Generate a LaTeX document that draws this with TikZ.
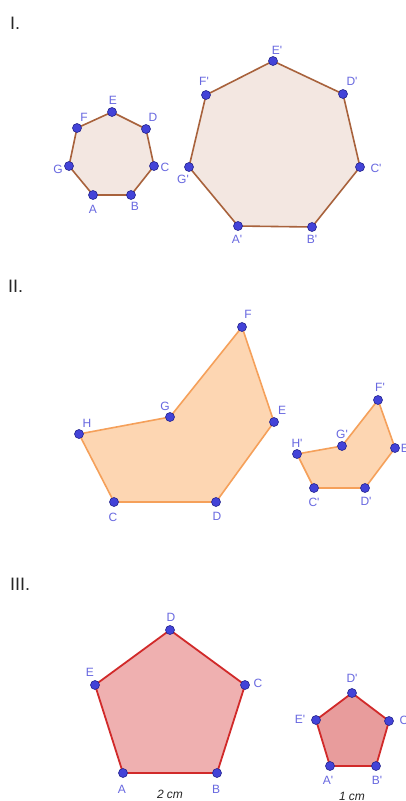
\documentclass[tikz,border=0pt]{standalone}
\usepackage{fontspec}
\newfontfamily\ggb{Liberation Sans}
\usepackage{tikz}
\usetikzlibrary{positioning}
\definecolor{ptfill}{HTML}{4343D8}
\definecolor{ptdraw}{HTML}{25258F}
\definecolor{lblcol}{HTML}{6868E0}
\definecolor{heptline}{HTML}{A8623C}
\definecolor{heptfill}{HTML}{F3E7E1}
\definecolor{boatline}{HTML}{F5A05A}
\definecolor{boatfill}{HTML}{FDD6B2}
\definecolor{pentline}{HTML}{D12A2A}
\definecolor{pentfill}{HTML}{EFB0B0}
\definecolor{pentfillb}{HTML}{E89C9C}
\tikzset{
  vert/.style={circle,fill=ptfill,draw=ptdraw,line width=0.6pt,minimum size=9pt,inner sep=0pt},
  lbl/.style={font=\ggb\fontsize{12}{12}\selectfont,text=lblcol,inner sep=0pt},
  part/.style={font=\ggb\fontsize{18}{18}\selectfont,text=black!85,anchor=base west,inner sep=0pt},
  len/.style={font=\ggb\itshape\fontsize{12}{12}\selectfont,text=black!85,inner sep=0pt},
  hept/.style={draw=heptline,fill=heptfill,line width=1.6pt,line join=round},
  boat/.style={draw=boatline,fill=boatfill,line width=1.6pt,line join=round},
  pent/.style={draw=pentline,fill=pentfill,line width=1.8pt,line join=round},
}
\begin{document}
\begin{tikzpicture}[x=1pt,y=-1pt]
  \useasboundingbox[fill=white] (0,0) rectangle (406,801);
  % I. two heptagons
  \node[part] (partI) at (10,29) {I.};
  \coordinate (hA) at (93,195);  \coordinate (hB) at (131,195);
  \coordinate (hC) at (154,166); \coordinate (hD) at (146,129);
  \coordinate (hE) at (112,112); \coordinate (hF) at (77,128);
  \coordinate (hG) at (69,166);
  \draw[hept] (hA) -- (hB) -- (hC) -- (hD) -- (hE) -- (hF) -- (hG) -- cycle;
  \coordinate (HA) at (238,226); \coordinate (HB) at (312,227);
  \coordinate (HC) at (360,167); \coordinate (HD) at (343,94);
  \coordinate (HE) at (273,61);  \coordinate (HF) at (206,95);
  \coordinate (HG) at (189,167);
  \draw[hept] (HA) -- (HB) -- (HC) -- (HD) -- (HE) -- (HF) -- (HG) -- cycle;
  \foreach \p in {hA,hB,hC,hD,hE,hF,hG,HA,HB,HC,HD,HE,HF,HG}
    \node[vert] (v-\p) at (\p) {};
  \node[lbl] (l-hA) at (93,209) {A};
  \node[lbl] (l-hB) at (135,206) {B};
  \node[lbl] (l-hC) at (165,167) {C};
  \node[lbl] (l-hD) at (153,117) {D};
  \node[lbl] (l-hE) at (113,100) {E};
  \node[lbl] (l-hF) at (84,117) {F};
  \node[lbl] (l-hG) at (58,169) {G};
  \node[lbl] (l-HA) at (237,239) {A'};
  \node[lbl] (l-HB) at (312,239) {B'};
  \node[lbl] (l-HC) at (376,168) {C'};
  \node[lbl] (l-HD) at (352,81) {D'};
  \node[lbl] (l-HE) at (277,50) {E'};
  \node[lbl] (l-HF) at (204,81) {F'};
  \node[lbl] (l-HG) at (183,179) {G'};
  % II. two hexagons (boat shape)
  \node[part] (partII) at (8,292) {II.};
  \coordinate (bC) at (114,502); \coordinate (bD) at (216,502);
  \coordinate (bE) at (274,422); \coordinate (bF) at (242,327);
  \coordinate (bG) at (170,417); \coordinate (bH) at (79,434);
  \draw[boat] (bC) -- (bD) -- (bE) -- (bF) -- (bG) -- (bH) -- cycle;
  \coordinate (BC) at (314,488); \coordinate (BD) at (365,488);
  \coordinate (BE) at (395,448); \coordinate (BF) at (378,400);
  \coordinate (BG) at (342,446); \coordinate (BH) at (297,454);
  \draw[boat] (BC) -- (BD) -- (BE) -- (BF) -- (BG) -- (BH) -- cycle;
  \foreach \p in {bC,bD,bE,bF,bG,bH,BC,BD,BE,BF,BG,BH}
    \node[vert] (v-\p) at (\p) {};
  \node[lbl] (l-bC) at (113,517) {C};
  \node[lbl] (l-bD) at (217,516) {D};
  \node[lbl] (l-bE) at (282,410) {E};
  \node[lbl] (l-bF) at (248,314) {F};
  \node[lbl] (l-bG) at (165,406) {G};
  \node[lbl] (l-bH) at (87,423) {H};
  \node[lbl] (l-BC) at (314,502) {C'};
  \node[lbl] (l-BD) at (366,501) {D'};
  \node[lbl] (l-BE) at (406,448) {E'};
  \node[lbl] (l-BF) at (380,387) {F'};
  \node[lbl] (l-BG) at (342,434) {G'};
  \node[lbl] (l-BH) at (297,443) {H'};
  % III. two regular pentagons
  \node[part] (partIII) at (10,590) {III.};
  \coordinate (pA) at (123,773); \coordinate (pB) at (217,773);
  \coordinate (pC) at (245,685); \coordinate (pD) at (170,630);
  \coordinate (pE) at (95,685);
  \draw[pent] (pA) -- (pB) -- (pC) -- (pD) -- (pE) -- cycle;
  \coordinate (PA) at (330,766); \coordinate (PB) at (376,766);
  \coordinate (PC) at (389,721); \coordinate (PD) at (352,693);
  \coordinate (PE) at (316,720);
  \draw[pent,fill=pentfillb] (PA) -- (PB) -- (PC) -- (PD) -- (PE) -- cycle;
  \foreach \p in {pA,pB,pC,pD,pE,PA,PB,PC,PD,PE}
    \node[vert] (v-\p) at (\p) {};
  \node[lbl] (l-pA) at (122,789) {A};
  \node[lbl] (l-pB) at (216,789) {B};
  \node[lbl] (l-pC) at (258,683) {C};
  \node[lbl] (l-pD) at (171,617) {D};
  \node[lbl] (l-pE) at (90,672) {E};
  \node[len] (l-AB) at (170,794) {2 cm};
  \node[lbl] (l-PA) at (328,780) {A'};
  \node[lbl] (l-PB) at (377,780) {B'};
  \node[lbl] (l-PC) at (405,720) {C'};
  \node[lbl] (l-PD) at (352,678) {D'};
  \node[lbl] (l-PE) at (300,719) {E'};
  \node[len] (l-PAB) at (352,796) {1 cm};
\end{tikzpicture}
\end{document}
